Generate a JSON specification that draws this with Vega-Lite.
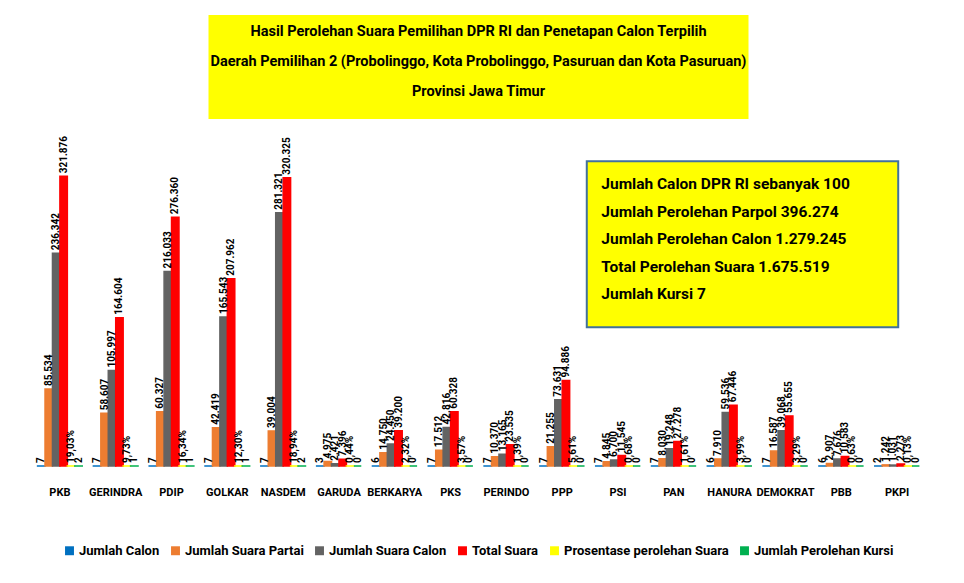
{
  "$schema": "https://vega.github.io/schema/vega-lite/v6.json",
  "background": "white",
  "padding": {"left": 32, "top": 15, "right": 10, "bottom": 5},
  "config": {
    "view": {"stroke": null},
    "font": "Roboto",
    "legend": {"layout": {"bottom": {"anchor": "middle"}}}
  },
  "spacing": 16,
  "center": true,
  "vconcat": [
    {
      "width": 540,
      "height": 104,
      "view": {"fill": "#ffff00", "stroke": null},
      "data": {"values": [{}]},
      "mark": {
        "type": "text",
        "text": ["Hasil Perolehan Suara Pemilihan DPR RI dan Penetapan Calon Terpilih", "Daerah Pemilihan 2 (Probolinggo, Kota Probolinggo, Pasuruan dan Kota Pasuruan)", "Provinsi Jawa Timur"],
        "lineHeight": 30,
        "fontSize": 14.5,
        "fontWeight": "bold",
        "align": "center",
        "baseline": "middle",
        "dy": -35,
        "color": "black"
      }
    },
    {
      "width": 893,
      "height": 324,
      "data": {"values": [
        {"p": "PKB", "s": "Jumlah Calon", "v": 7, "l": "7"},
        {"p": "PKB", "s": "Jumlah Suara Partai", "v": 85534, "l": "85.534"},
        {"p": "PKB", "s": "Jumlah Suara Calon", "v": 236342, "l": "236.342"},
        {"p": "PKB", "s": "Total Suara", "v": 321876, "l": "321.876"},
        {"p": "PKB", "s": "Prosentase perolehan Suara", "v": 19.03, "l": "19,03%"},
        {"p": "PKB", "s": "Jumlah Perolehan Kursi", "v": 2, "l": "2"},
        {"p": "GERINDRA", "s": "Jumlah Calon", "v": 7, "l": "7"},
        {"p": "GERINDRA", "s": "Jumlah Suara Partai", "v": 58607, "l": "58.607"},
        {"p": "GERINDRA", "s": "Jumlah Suara Calon", "v": 105997, "l": "105.997"},
        {"p": "GERINDRA", "s": "Total Suara", "v": 164604, "l": "164.604"},
        {"p": "GERINDRA", "s": "Prosentase perolehan Suara", "v": 9.73, "l": "9,73%"},
        {"p": "GERINDRA", "s": "Jumlah Perolehan Kursi", "v": 1, "l": "1"},
        {"p": "PDIP", "s": "Jumlah Calon", "v": 7, "l": "7"},
        {"p": "PDIP", "s": "Jumlah Suara Partai", "v": 60327, "l": "60.327"},
        {"p": "PDIP", "s": "Jumlah Suara Calon", "v": 216033, "l": "216.033"},
        {"p": "PDIP", "s": "Total Suara", "v": 276360, "l": "276.360"},
        {"p": "PDIP", "s": "Prosentase perolehan Suara", "v": 16.34, "l": "16,34%"},
        {"p": "PDIP", "s": "Jumlah Perolehan Kursi", "v": 1, "l": "1"},
        {"p": "GOLKAR", "s": "Jumlah Calon", "v": 7, "l": "7"},
        {"p": "GOLKAR", "s": "Jumlah Suara Partai", "v": 42419, "l": "42.419"},
        {"p": "GOLKAR", "s": "Jumlah Suara Calon", "v": 165543, "l": "165.543"},
        {"p": "GOLKAR", "s": "Total Suara", "v": 207962, "l": "207.962"},
        {"p": "GOLKAR", "s": "Prosentase perolehan Suara", "v": 12.30, "l": "12,30%"},
        {"p": "GOLKAR", "s": "Jumlah Perolehan Kursi", "v": 1, "l": "1"},
        {"p": "NASDEM", "s": "Jumlah Calon", "v": 7, "l": "7"},
        {"p": "NASDEM", "s": "Jumlah Suara Partai", "v": 39004, "l": "39.004"},
        {"p": "NASDEM", "s": "Jumlah Suara Calon", "v": 281321, "l": "281.321"},
        {"p": "NASDEM", "s": "Total Suara", "v": 320325, "l": "320.325"},
        {"p": "NASDEM", "s": "Prosentase perolehan Suara", "v": 18.94, "l": "18,94%"},
        {"p": "NASDEM", "s": "Jumlah Perolehan Kursi", "v": 2, "l": "2"},
        {"p": "GARUDA", "s": "Jumlah Calon", "v": 3, "l": "3"},
        {"p": "GARUDA", "s": "Jumlah Suara Partai", "v": 4975, "l": "4.975"},
        {"p": "GARUDA", "s": "Jumlah Suara Calon", "v": 2421, "l": "2.421"},
        {"p": "GARUDA", "s": "Total Suara", "v": 7396, "l": "7.396"},
        {"p": "GARUDA", "s": "Prosentase perolehan Suara", "v": 0.44, "l": "0,44%"},
        {"p": "GARUDA", "s": "Jumlah Perolehan Kursi", "v": 0, "l": "0"},
        {"p": "BERKARYA", "s": "Jumlah Calon", "v": 6, "l": "6"},
        {"p": "BERKARYA", "s": "Jumlah Suara Partai", "v": 14750, "l": "14.750"},
        {"p": "BERKARYA", "s": "Jumlah Suara Calon", "v": 24450, "l": "24.450"},
        {"p": "BERKARYA", "s": "Total Suara", "v": 39200, "l": "39.200"},
        {"p": "BERKARYA", "s": "Prosentase perolehan Suara", "v": 2.32, "l": "2,32%"},
        {"p": "BERKARYA", "s": "Jumlah Perolehan Kursi", "v": 0, "l": "0"},
        {"p": "PKS", "s": "Jumlah Calon", "v": 7, "l": "7"},
        {"p": "PKS", "s": "Jumlah Suara Partai", "v": 17512, "l": "17.512"},
        {"p": "PKS", "s": "Jumlah Suara Calon", "v": 42816, "l": "42.816"},
        {"p": "PKS", "s": "Total Suara", "v": 60328, "l": "60.328"},
        {"p": "PKS", "s": "Prosentase perolehan Suara", "v": 3.57, "l": "3,57%"},
        {"p": "PKS", "s": "Jumlah Perolehan Kursi", "v": 0, "l": "0"},
        {"p": "PERINDO", "s": "Jumlah Calon", "v": 7, "l": "7"},
        {"p": "PERINDO", "s": "Jumlah Suara Partai", "v": 10370, "l": "10.370"},
        {"p": "PERINDO", "s": "Jumlah Suara Calon", "v": 13165, "l": "13.165"},
        {"p": "PERINDO", "s": "Total Suara", "v": 23535, "l": "23.535"},
        {"p": "PERINDO", "s": "Prosentase perolehan Suara", "v": 1.39, "l": "1,39%"},
        {"p": "PERINDO", "s": "Jumlah Perolehan Kursi", "v": 0, "l": "0"},
        {"p": "PPP", "s": "Jumlah Calon", "v": 7, "l": "7"},
        {"p": "PPP", "s": "Jumlah Suara Partai", "v": 21255, "l": "21.255"},
        {"p": "PPP", "s": "Jumlah Suara Calon", "v": 73631, "l": "73.631"},
        {"p": "PPP", "s": "Total Suara", "v": 94886, "l": "94.886"},
        {"p": "PPP", "s": "Prosentase perolehan Suara", "v": 5.61, "l": "5,61%"},
        {"p": "PPP", "s": "Jumlah Perolehan Kursi", "v": 0, "l": "0"},
        {"p": "PSI", "s": "Jumlah Calon", "v": 7, "l": "7"},
        {"p": "PSI", "s": "Jumlah Suara Partai", "v": 4845, "l": "4.845"},
        {"p": "PSI", "s": "Jumlah Suara Calon", "v": 6700, "l": "6.700"},
        {"p": "PSI", "s": "Total Suara", "v": 11545, "l": "11.545"},
        {"p": "PSI", "s": "Prosentase perolehan Suara", "v": 0.68, "l": "0,68%"},
        {"p": "PSI", "s": "Jumlah Perolehan Kursi", "v": 0, "l": "0"},
        {"p": "PAN", "s": "Jumlah Calon", "v": 7, "l": "7"},
        {"p": "PAN", "s": "Jumlah Suara Partai", "v": 8030, "l": "8.030"},
        {"p": "PAN", "s": "Jumlah Suara Calon", "v": 19248, "l": "19.248"},
        {"p": "PAN", "s": "Total Suara", "v": 27278, "l": "27.278"},
        {"p": "PAN", "s": "Prosentase perolehan Suara", "v": 1.61, "l": "1,61%"},
        {"p": "PAN", "s": "Jumlah Perolehan Kursi", "v": 0, "l": "0"},
        {"p": "HANURA", "s": "Jumlah Calon", "v": 6, "l": "6"},
        {"p": "HANURA", "s": "Jumlah Suara Partai", "v": 7910, "l": "7.910"},
        {"p": "HANURA", "s": "Jumlah Suara Calon", "v": 59536, "l": "59.536"},
        {"p": "HANURA", "s": "Total Suara", "v": 67446, "l": "67.446"},
        {"p": "HANURA", "s": "Prosentase perolehan Suara", "v": 3.99, "l": "3,99%"},
        {"p": "HANURA", "s": "Jumlah Perolehan Kursi", "v": 0, "l": "0"},
        {"p": "DEMOKRAT", "s": "Jumlah Calon", "v": 7, "l": "7"},
        {"p": "DEMOKRAT", "s": "Jumlah Suara Partai", "v": 16587, "l": "16.587"},
        {"p": "DEMOKRAT", "s": "Jumlah Suara Calon", "v": 39068, "l": "39.068"},
        {"p": "DEMOKRAT", "s": "Total Suara", "v": 55655, "l": "55.655"},
        {"p": "DEMOKRAT", "s": "Prosentase perolehan Suara", "v": 3.29, "l": "3,29%"},
        {"p": "DEMOKRAT", "s": "Jumlah Perolehan Kursi", "v": 0, "l": "0"},
        {"p": "PBB", "s": "Jumlah Calon", "v": 6, "l": "6"},
        {"p": "PBB", "s": "Jumlah Suara Partai", "v": 2907, "l": "2.907"},
        {"p": "PBB", "s": "Jumlah Suara Calon", "v": 7676, "l": "7.676"},
        {"p": "PBB", "s": "Total Suara", "v": 10583, "l": "10.583"},
        {"p": "PBB", "s": "Prosentase perolehan Suara", "v": 0.63, "l": "0,63%"},
        {"p": "PBB", "s": "Jumlah Perolehan Kursi", "v": 0, "l": "0"},
        {"p": "PKPI", "s": "Jumlah Calon", "v": 2, "l": "2"},
        {"p": "PKPI", "s": "Jumlah Suara Partai", "v": 1242, "l": "1.242"},
        {"p": "PKPI", "s": "Jumlah Suara Calon", "v": 1031, "l": "1.031"},
        {"p": "PKPI", "s": "Total Suara", "v": 2273, "l": "2.273"},
        {"p": "PKPI", "s": "Prosentase perolehan Suara", "v": 0.13, "l": "0,13%"},
        {"p": "PKPI", "s": "Jumlah Perolehan Kursi", "v": 0, "l": "0"}
      ]},
      "layer": [
        {
          "layer": [
            {
              "mark": {"type": "bar", "strokeWidth": 1.5},
              "encoding": {
                "x": {"field": "p", "type": "nominal", "sort": ["PKB", "GERINDRA", "PDIP", "GOLKAR", "NASDEM", "GARUDA", "BERKARYA", "PKS", "PERINDO", "PPP", "PSI", "PAN", "HANURA", "DEMOKRAT", "PBB", "PKPI"], "scale": {"paddingInner": 0.2, "paddingOuter": 0.1}, "axis": {"title": null, "labelAngle": 0, "domain": false, "ticks": false, "labelPadding": 20, "labelFontSize": 11, "labelFontWeight": "bold", "labelColor": "black"}},
                "xOffset": {"field": "s", "type": "nominal", "sort": ["Jumlah Calon", "Jumlah Suara Partai", "Jumlah Suara Calon", "Total Suara", "Prosentase perolehan Suara", "Jumlah Perolehan Kursi"], "scale": {"paddingInner": 0, "paddingOuter": 0}},
                "y": {"field": "v", "type": "quantitative", "scale": {"domain": [0, 360000], "nice": false}, "axis": null},
                "color": {"field": "s", "type": "nominal", "scale": {"domain": ["Jumlah Calon", "Jumlah Suara Partai", "Jumlah Suara Calon", "Total Suara", "Prosentase perolehan Suara", "Jumlah Perolehan Kursi"], "range": ["#0070c0", "#ed7d31", "#636363", "#ff0000", "#ffff00", "#00b050"]}, "legend": {"title": null, "orient": "bottom", "direction": "horizontal", "columns": 6, "symbolType": "square", "symbolSize": 80, "symbolStrokeWidth": 0, "labelFontSize": 13, "labelFontWeight": "bold", "labelColor": "black", "labelLimit": 300, "columnPadding": 9, "labelOffset": 3, "offset": 47}},
                "stroke": {"field": "s", "type": "nominal", "scale": {"domain": ["Jumlah Calon", "Jumlah Suara Partai", "Jumlah Suara Calon", "Total Suara", "Prosentase perolehan Suara", "Jumlah Perolehan Kursi"], "range": ["#0070c0", "#ed7d31", "#636363", "#ff0000", "#ffff00", "#00b050"]}, "legend": null}
              }
            },
            {
              "mark": {"type": "text", "angle": 270, "align": "left", "baseline": "middle", "dx": 3, "fontSize": 10, "fontWeight": "bold", "color": "black"},
              "encoding": {
                "x": {"field": "p", "type": "nominal", "sort": ["PKB", "GERINDRA", "PDIP", "GOLKAR", "NASDEM", "GARUDA", "BERKARYA", "PKS", "PERINDO", "PPP", "PSI", "PAN", "HANURA", "DEMOKRAT", "PBB", "PKPI"]},
                "xOffset": {"field": "s", "type": "nominal", "sort": ["Jumlah Calon", "Jumlah Suara Partai", "Jumlah Suara Calon", "Total Suara", "Prosentase perolehan Suara", "Jumlah Perolehan Kursi"]},
                "y": {"field": "v", "type": "quantitative"},
                "text": {"field": "l", "type": "nominal"}
              }
            }
          ]
        },
        {
          "data": {"values": [{}]},
          "layer": [
            {
              "mark": {"type": "rect", "fill": "#ffff00", "stroke": "#41719c", "strokeWidth": 2},
              "encoding": {
                "x": {"datum": 9.94, "type": "quantitative", "scale": {"domain": [0, 16], "nice": false, "zero": false}, "axis": null},
                "x2": {"datum": 15.52},
                "y": {"datum": 338550, "type": "quantitative", "scale": {"domain": [0, 360000], "nice": false}},
                "y2": {"datum": 154300}
              }
            },
            {
              "mark": {"type": "text", "text": ["Jumlah Calon DPR RI  sebanyak 100", "Jumlah Perolehan Parpol 396.274", "Jumlah Perolehan Calon 1.279.245", "Total Perolehan Suara 1.675.519", "Jumlah Kursi 7"], "lineHeight": 27.5, "fontSize": 15.5, "fontWeight": "bold", "align": "left", "baseline": "middle", "color": "black"},
              "encoding": {
                "x": {"datum": 10.2, "type": "quantitative"},
                "y": {"datum": 313300, "type": "quantitative"}
              }
            }
          ]
        }
      ],
      "resolve": {"scale": {"x": "independent"}}
    }
  ]
}
